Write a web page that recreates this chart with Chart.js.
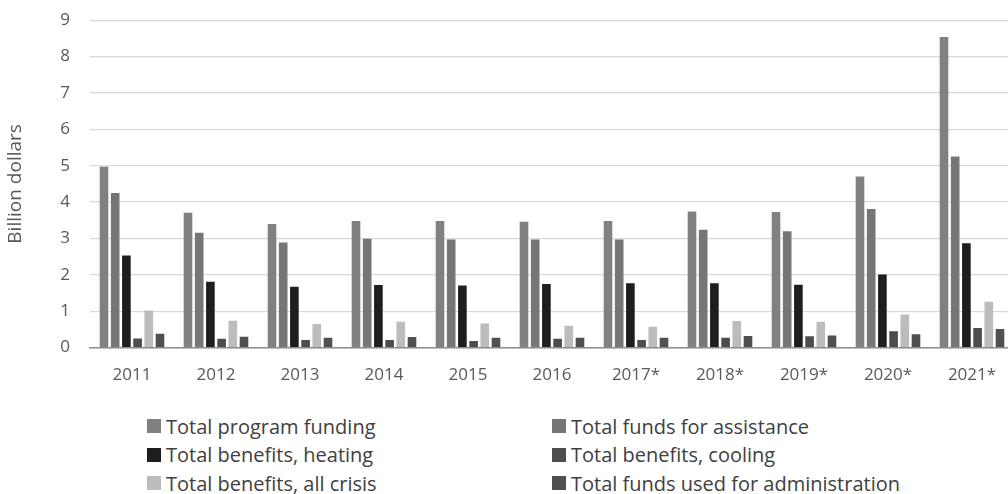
<!DOCTYPE html>
<html>
<head>
<meta charset="utf-8">
<script src="https://cdn.jsdelivr.net/npm/chart.js@4/dist/chart.umd.min.js"></script>
<style>
  html, body { margin: 0; padding: 0; background: #fff; overflow: hidden; }
  #wrap { position: relative; width: 1008px; height: 494px; overflow: hidden; }
  #chart-box { position: absolute; left: 0; top: -10px; width: 1014px; height: 412px; }
  #legend {
    position: absolute; top: 412px; left: 147px;
    display: grid; grid-template-columns: 405px 420px; row-gap: 0;
    font-family: "Open Sans", sans-serif; font-size: 20px; color: #404040;
  }
  #legend div { display: flex; align-items: center; height: 28.5px; white-space: nowrap; }
  #legend span.box { width: 14px; height: 14px; margin-right: 5px; display: inline-block; }
</style>
</head>
<body>
<div id="wrap">
  <div id="chart-box"><canvas id="chart"></canvas></div>
  <div id="legend"></div>
</div>
<script>
// Data
const years = ['2011', '2012', '2013', '2014', '2015', '2016', '2017*', '2018*', '2019*', '2020*', '2021*'];

const programFunding = [4.97, 3.71, 3.40, 3.48, 3.48, 3.46, 3.48, 3.74, 3.73, 4.70, 8.54];
const fundsAssistance = [4.25, 3.16, 2.89, 2.99, 2.97, 2.97, 2.97, 3.24, 3.20, 3.81, 5.25];
const benefitsHeating = [2.53, 1.81, 1.67, 1.72, 1.71, 1.75, 1.77, 1.77, 1.73, 2.01, 2.87];
const benefitsCooling = [0.25, 0.24, 0.21, 0.21, 0.18, 0.24, 0.21, 0.27, 0.31, 0.45, 0.54];
const benefitsCrisis = [1.02, 0.74, 0.65, 0.71, 0.66, 0.60, 0.57, 0.73, 0.71, 0.91, 1.26];
const fundsAdmin = [0.38, 0.30, 0.27, 0.29, 0.27, 0.27, 0.27, 0.32, 0.33, 0.37, 0.51];

const yTicks = [0, 1, 2, 3, 4, 5, 6, 7, 8, 9];

const seriesNames = [
    'Total program funding',
    'Total funds for assistance',
    'Total benefits, heating',
    'Total benefits, cooling',
    'Total benefits, all crisis',
    'Total funds used for administration'
];
const seriesColors = ['#808080', '#767676', '#1e1e1e', '#4d4d4d', '#bcbcbc', '#505050'];
const seriesData = [programFunding, fundsAssistance, benefitsHeating, benefitsCooling, benefitsCrisis, fundsAdmin];

const FONT = '"Open Sans", sans-serif';

const ctx = document.getElementById('chart').getContext('2d');
const chart = new Chart(ctx, {
    type: 'bar',
    data: {
        labels: years,
        datasets: seriesNames.map((name, i) => ({
            label: name,
            data: seriesData[i],
            backgroundColor: seriesColors[i],
            borderWidth: 0,
            barPercentage: 0.77,
            categoryPercentage: 0.8
        }))
    },
    options: {
        responsive: true,
        maintainAspectRatio: false,
        animation: false,
        layout: { padding: 0 },
        plugins: {
            legend: { display: false },
            tooltip: { enabled: false }
        },
        scales: {
            x: {
                grid: { display: false, drawTicks: false },
                border: { display: true, color: '#8c8c8c', width: 1.5 },
                ticks: {
                    color: '#595959',
                    font: { family: FONT, size: 17 },
                    padding: 17,
                    maxRotation: 0
                }
            },
            y: {
                min: 0,
                max: 9,
                afterBuildTicks: axis => { axis.ticks = yTicks.map(v => ({ value: v })); },
                afterFit: axis => { axis.width = 90; },
                grid: { color: '#d9d9d9', lineWidth: 1.3, drawTicks: false },
                border: { display: false },
                ticks: {
                    color: '#595959',
                    font: { family: FONT, size: 17 },
                    padding: 20
                },
                title: {
                    display: true,
                    text: 'Billion dollars',
                    color: '#595959',
                    font: { family: FONT, size: 19 },
                    padding: { top: 4, bottom: 0 }
                }
            }
        }
    }
});

// Legend (two columns, like the original)
const legendEl = document.getElementById('legend');
legendEl.innerHTML = chart.data.datasets.map(ds => `
    <div><span class="box" style="background:${ds.backgroundColor}"></span>${ds.label}</div>
`).join('');
</script>
</body>
</html>
